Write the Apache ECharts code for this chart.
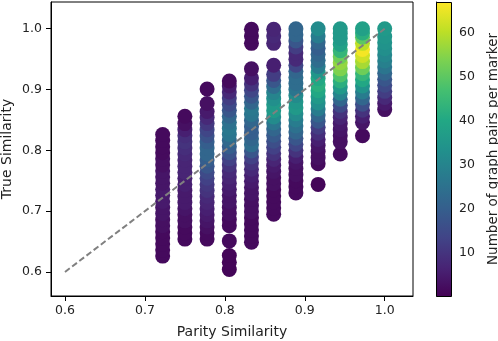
<!DOCTYPE html>
<html>
<head>
<meta charset="utf-8">
<script src="https://cdn.jsdelivr.net/npm/echarts@6/dist/echarts.min.js"></script>
<style>
  html, body { margin: 0; padding: 0; background: #fff; }
  #chart { width: 498px; height: 341px; }
</style>
</head>
<body>
<div id="chart"></div>
<script>
// parity similarity of each column of markers
var parityX = [0.7222, 0.75, 0.7778, 0.8056, 0.8333, 0.8611, 0.8889, 0.9167, 0.9444, 0.9722, 1.0];

// true similarity of the markers in each column (bottom to top)
var trueY = [
	[0.626, 0.636, 0.646, 0.656, 0.666, 0.676, 0.686, 0.696, 0.706, 0.716, 0.726, 0.736, 0.746, 0.756, 0.766, 0.776, 0.786, 0.796, 0.806, 0.816, 0.826],
	[0.654, 0.664, 0.674, 0.684, 0.694, 0.704, 0.714, 0.724, 0.734, 0.744, 0.754, 0.764, 0.774, 0.784, 0.794, 0.804, 0.814, 0.824, 0.834, 0.844, 0.856],
	[0.654, 0.664, 0.674, 0.684, 0.694, 0.704, 0.714, 0.724, 0.734, 0.744, 0.754, 0.764, 0.774, 0.784, 0.794, 0.804, 0.814, 0.824, 0.834, 0.844, 0.854, 0.864, 0.877, 0.901],
	[0.604, 0.616, 0.627, 0.651, 0.676, 0.686, 0.696, 0.706, 0.716, 0.726, 0.736, 0.746, 0.756, 0.766, 0.776, 0.786, 0.796, 0.806, 0.816, 0.826, 0.836, 0.846, 0.856, 0.866, 0.876, 0.886, 0.896, 0.906, 0.914],
	[0.649, 0.659, 0.669, 0.679, 0.689, 0.699, 0.709, 0.719, 0.729, 0.739, 0.749, 0.759, 0.769, 0.779, 0.789, 0.799, 0.809, 0.819, 0.829, 0.839, 0.849, 0.859, 0.869, 0.879, 0.889, 0.899, 0.909, 0.919, 0.934, 0.976, 0.988, 0.999],
	[0.695, 0.705, 0.715, 0.725, 0.735, 0.745, 0.755, 0.765, 0.775, 0.785, 0.795, 0.805, 0.815, 0.825, 0.835, 0.845, 0.855, 0.865, 0.875, 0.885, 0.895, 0.905, 0.915, 0.925, 0.94, 0.976, 0.988, 0.999],
	[0.73, 0.74, 0.75, 0.76, 0.77, 0.78, 0.79, 0.80, 0.81, 0.82, 0.83, 0.84, 0.85, 0.86, 0.87, 0.88, 0.89, 0.90, 0.91, 0.92, 0.93, 0.94, 0.95, 0.96, 0.97, 0.98, 0.99, 1.0],
	[0.744, 0.778, 0.788, 0.798, 0.808, 0.818, 0.828, 0.838, 0.848, 0.858, 0.868, 0.878, 0.888, 0.898, 0.908, 0.918, 0.928, 0.938, 0.948, 0.958, 0.968, 0.978, 0.988, 1.0],
	[0.794, 0.814, 0.824, 0.834, 0.844, 0.854, 0.864, 0.874, 0.884, 0.894, 0.904, 0.914, 0.924, 0.934, 0.944, 0.954, 0.964, 0.974, 0.984, 0.992, 1.0],
	[0.824, 0.846, 0.856, 0.866, 0.876, 0.886, 0.896, 0.906, 0.916, 0.926, 0.936, 0.946, 0.956, 0.966, 0.976, 0.986, 0.993, 1.0],
	[0.867, 0.877, 0.887, 0.897, 0.907, 0.917, 0.927, 0.937, 0.947, 0.957, 0.967, 0.977, 0.987, 1.0]
];

// number of graph pairs behind each marker
var pairCounts = [
	[2, 2, 2, 2, 2, 3, 3, 4, 4, 5, 5, 5, 4, 4, 4, 3, 3, 2, 2, 2, 2],
	[2, 2, 2, 3, 3, 4, 5, 5, 5, 6, 6, 7, 7, 7, 8, 9, 10, 9, 6, 3, 2],
	[2, 2, 3, 4, 5, 6, 7, 8, 10, 11, 13, 15, 18, 20, 22, 22, 20, 17, 14, 11, 8, 5, 3, 2],
	[1, 1, 1, 2, 2, 2, 3, 3, 4, 4, 5, 6, 7, 8, 10, 13, 17, 20, 23, 26, 27, 25, 22, 18, 15, 12, 8, 5, 2],
	[2, 2, 2, 2, 2, 3, 3, 3, 4, 4, 5, 6, 8, 10, 13, 18, 24, 22, 20, 20, 22, 26, 27, 22, 18, 14, 10, 6, 3, 2, 2, 2],
	[2, 2, 2, 2, 2, 3, 3, 4, 5, 7, 10, 13, 16, 19, 22, 26, 32, 36, 36, 33, 30, 24, 18, 12, 6, 7, 8, 7],
	[2, 2, 2, 3, 3, 4, 6, 10, 14, 18, 22, 25, 28, 32, 36, 35, 32, 26, 24, 24, 22, 14, 8, 8, 12, 18, 22, 22],
	[1, 2, 3, 3, 4, 6, 9, 12, 18, 22, 28, 33, 36, 40, 42, 40, 35, 28, 24, 22, 20, 22, 28, 32],
	[2, 3, 3, 4, 5, 7, 10, 15, 22, 30, 36, 42, 48, 54, 56, 52, 44, 38, 36, 36, 36],
	[2, 4, 6, 10, 16, 22, 28, 34, 40, 44, 52, 58, 62, 66, 60, 50, 42, 38],
	[3, 5, 8, 12, 15, 18, 22, 26, 29, 31, 33, 34, 35, 36]
];

// identity reference line
var diagX = [0.6, 1.0];
var diagY = [0.6, 1.0];

var xTicks = [0.6, 0.7, 0.8, 0.9, 1.0];
var yTicks = [0.6, 0.7, 0.8, 0.9, 1.0];
var barTicks = [10, 20, 30, 40, 50, 60];
var countMin = 0.2, countMax = 66.9;

var viridis = ['#440154', '#482475', '#414487', '#355f8d', '#2a788e', '#21918c',
	'#22a884', '#44bf70', '#7ad151', '#bddf26', '#fde725'];

var points = [];
parityX.forEach(function (x, i) {
	trueY[i].forEach(function (y, j) {
		points.push([x, y, pairCounts[i][j]]);
	});
});
var diag = diagX.map(function (x, i) { return [x, diagY[i]]; });

var font = 'DejaVu Sans';
var txt = '#222';

var chart = echarts.init(document.getElementById('chart'));
chart.setOption({
	animation: false,
	textStyle: { fontFamily: font },
	grid: [
		{ left: 51, right: 85, top: 2, bottom: 45, outerBoundsMode: 'none', containLabel: false,
			show: true, borderColor: '#000', borderWidth: 1 },
		{ left: 436, width: 15, top: 2, bottom: 45, outerBoundsMode: 'none', containLabel: false }
	],
	graphic: [{
		type: 'rect',
		left: 436, top: 2,
		shape: { width: 15, height: 294 },
		style: {
			fill: new echarts.graphic.LinearGradient(0, 1, 0, 0,
				viridis.map(function (c, i) { return { offset: i / (viridis.length - 1), color: c }; })),
			stroke: '#000', lineWidth: 1
		},
		z: 10
	}],
	visualMap: {
		show: false,
		type: 'continuous',
		dimension: 2,
		seriesIndex: 0,
		min: countMin, max: countMax,
		inRange: { color: viridis }
	},
	xAxis: [{
		type: 'value', min: 0.5825, max: 1.0354,
		name: 'Parity Similarity', nameLocation: 'middle', nameGap: 29, nameMoveOverlap: false,
		nameTextStyle: { fontSize: 14, color: txt },
		axisLine: { onZero: false, lineStyle: { color: '#000' } },
		axisTick: { customValues: xTicks, length: 5, lineStyle: { color: '#000' } },
		axisLabel: { customValues: xTicks, fontSize: 12.5, color: txt, margin: 8,
			formatter: function (v) { return v.toFixed(1); } },
		splitLine: { show: false }
	}, {
		type: 'value', gridIndex: 1, show: false, min: 0, max: 1
	}],
	yAxis: [{
		type: 'value', min: 0.5604, max: 1.044,
		name: 'True Similarity', nameLocation: 'middle', nameGap: 37, nameRotate: 90, nameMoveOverlap: false,
		nameTextStyle: { fontSize: 14, color: txt },
		axisLine: { onZero: false, lineStyle: { color: '#000' } },
		axisTick: { customValues: yTicks, length: 5, lineStyle: { color: '#000' } },
		axisLabel: { customValues: yTicks, fontSize: 12.5, color: txt, margin: 9,
			formatter: function (v) { return v.toFixed(1); } },
		splitLine: { show: false }
	}, {
		type: 'value', gridIndex: 1, position: 'right', min: countMin, max: countMax,
		name: 'Number of graph pairs per marker', nameLocation: 'middle', nameGap: 35, nameRotate: 90,
		nameMoveOverlap: false,
		nameTextStyle: { fontSize: 13.5, color: txt },
		axisLine: { show: true, lineStyle: { color: '#000' } },
		axisTick: { show: true, customValues: barTicks, length: 5, lineStyle: { color: '#000' } },
		axisLabel: { customValues: barTicks, fontSize: 12.5, color: txt, margin: 8 },
		splitLine: { show: false }
	}],
	series: [{
		type: 'scatter',
		data: points,
		symbolSize: 15,
		itemStyle: { opacity: 1 },
		z: 2
	}, {
		type: 'line',
		data: diag,
		symbol: 'none',
		lineStyle: { color: '#808080', width: 2, type: [6, 3] },
		z: 5
	}]
});
</script>
</body>
</html>
